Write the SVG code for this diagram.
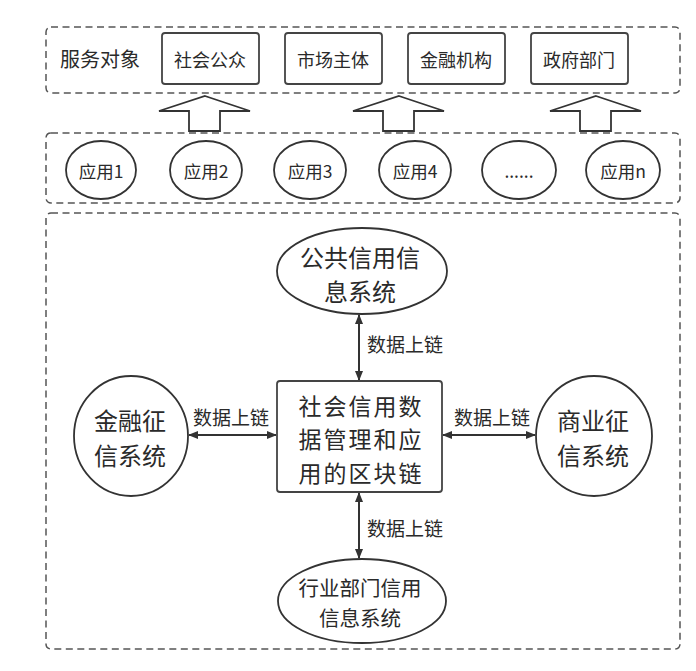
<svg xmlns="http://www.w3.org/2000/svg" width="696" height="671" viewBox="0 0 696 671">
<defs>
<style>
text{font-family:"Noto Sans CJK SC","Microsoft YaHei",sans-serif;fill:#2a2a2a;text-anchor:middle;dominant-baseline:central}
.dash{fill:none;stroke:#555;stroke-width:1.5;stroke-dasharray:7 4.5}
.box{fill:#fff;stroke:#444;stroke-width:1.8}
.node{fill:#fff;stroke:#333;stroke-width:1.8}
.conn{stroke:#333;stroke-width:2;fill:none;marker-start:url(#ah);marker-end:url(#ah)}
.up{fill:#fff;stroke:#333;stroke-width:1.8}
.svc{font-size:18px}
.app{font-size:17.5px}
.lbl{font-size:19px}
.big{font-size:24px}
.core{font-size:23px;letter-spacing:2px}
.ind{font-size:20.5px}
</style>
<marker id="ah" viewBox="0 0 10 10" refX="9" refY="5" markerWidth="5" markerHeight="5" orient="auto-start-reverse" markerUnits="strokeWidth">
<path d="M0,1 L10,5 L0,9 Z" fill="#333"/>
</marker>
</defs>
<rect width="696" height="671" fill="#fff"/>
<g id="layer-service">
<rect class="dash" x="46" y="27" width="634" height="66" rx="5"/>
<text x="100" y="58" style="font-size:20px">服务对象</text>
</g>
<g id="svc1"><rect class="box" x="162" y="33" width="97" height="51" rx="3"/><text class="svc" x="210" y="59">社会公众</text></g>
<g id="svc2"><rect class="box" x="285" y="33" width="97" height="51" rx="3"/><text class="svc" x="333" y="59">市场主体</text></g>
<g id="svc3"><rect class="box" x="408" y="33" width="97" height="51" rx="3"/><text class="svc" x="456" y="59">金融机构</text></g>
<g id="svc4"><rect class="box" x="531" y="33" width="97" height="51" rx="3"/><text class="svc" x="579" y="59">政府部门</text></g>
<g id="up-arrows">
<path class="up" d="M205,96 L250,111 L220,111 L220,131 L189,131 L189,111 L159,111 Z"/>
<path class="up" d="M399,96 L444,111 L414,111 L414,131 L383,131 L383,111 L353,111 Z"/>
<path class="up" d="M596,96 L641,111 L611,111 L611,131 L580,131 L580,111 L550,111 Z"/>
</g>
<g id="layer-apps">
<rect class="dash" x="46" y="133" width="634" height="70" rx="5"/>
</g>
<g id="app1"><ellipse class="node" cx="101" cy="170" rx="35" ry="29"/><text class="app" x="101" y="170">应用1</text></g>
<g id="app2"><ellipse class="node" cx="206" cy="170" rx="36" ry="29"/><text class="app" x="206" y="170">应用2</text></g>
<g id="app3"><ellipse class="node" cx="310" cy="170" rx="36" ry="29"/><text class="app" x="310" y="170">应用3</text></g>
<g id="app4"><ellipse class="node" cx="415" cy="170" rx="36" ry="29"/><text class="app" x="415" y="170">应用4</text></g>
<g id="app5"><ellipse class="node" cx="519" cy="170" rx="37" ry="29"/><text class="app" x="519" y="170">......</text></g>
<g id="appn"><ellipse class="node" cx="623" cy="170" rx="37" ry="29"/><text class="app" x="623" y="170">应用n</text></g>
<g id="layer-core">
<rect class="dash" x="46" y="213" width="634" height="436" rx="5"/>
</g>
<g id="connectors">
<line class="conn" x1="359" y1="315" x2="359" y2="380"/>
<line class="conn" x1="359" y1="493" x2="359" y2="558"/>
<line class="conn" x1="189" y1="435" x2="276" y2="435"/>
<line class="conn" x1="443" y1="435" x2="535" y2="435"/>
<text class="lbl" x="405" y="343">数据上链</text>
<text class="lbl" x="405" y="527">数据上链</text>
<text class="lbl" x="231" y="416">数据上链</text>
<text class="lbl" x="492" y="416">数据上链</text>
</g>
<g id="public"><ellipse class="node" cx="362" cy="271" rx="85" ry="43"/><text class="big" x="360" y="256">公共信用信</text><text class="big" x="360" y="290">息系统</text></g>
<g id="core"><rect class="box" x="277" y="381" width="165" height="111" rx="3"/>
<text class="core" x="361" y="405">社会信用数</text>
<text class="core" x="361" y="438">据管理和应</text>
<text class="core" x="361" y="472">用的区块链</text></g>
<g id="finance"><ellipse class="node" cx="131" cy="436" rx="57" ry="60"/><text class="big" x="130" y="419">金融征</text><text class="big" x="130" y="454">信系统</text></g>
<g id="commerce"><ellipse class="node" cx="594" cy="436" rx="58" ry="60"/><text class="big" x="593" y="419">商业征</text><text class="big" x="593" y="454">信系统</text></g>
<g id="industry"><ellipse class="node" cx="362" cy="601" rx="84" ry="42"/><text class="ind" x="360" y="587">行业部门信用</text><text class="ind" x="360" y="617">信息系统</text></g>
</svg>
